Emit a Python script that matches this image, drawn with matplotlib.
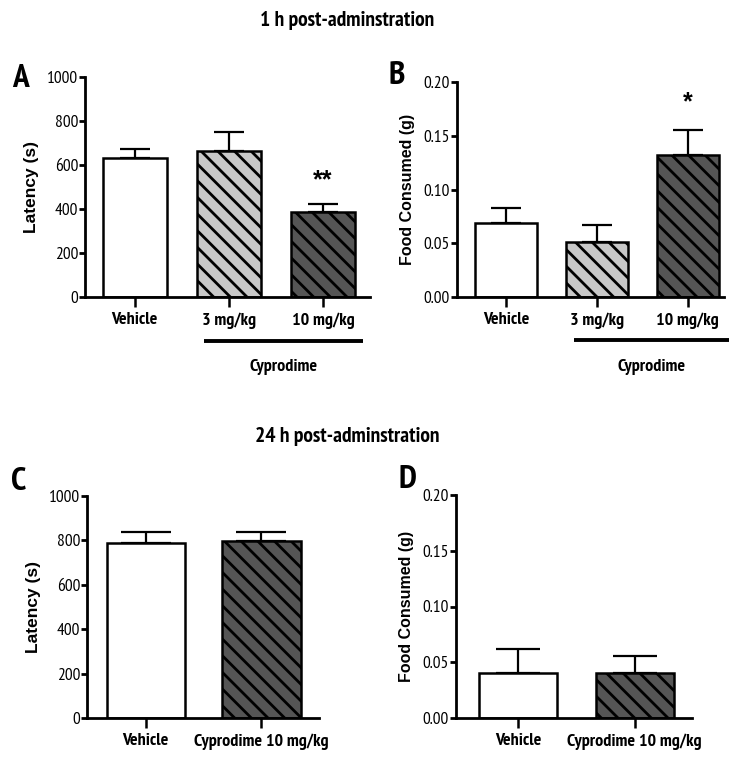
import matplotlib
matplotlib.use("Agg")
import matplotlib.pyplot as plt
from matplotlib import font_manager as fm
import matplotlib.transforms as mtransforms

_fonts = {}
for f in fm.fontManager.ttflist:
    w = f.weight
    if isinstance(w, str):
        w = {'bold': 700, 'normal': 400, 'regular': 400}.get(w, 400)
    _fonts.setdefault(f.name, set()).add(w)
_cands = ['Liberation Sans Narrow', 'Arial Narrow', 'PT Sans Narrow', 'Pragati Narrow',
          'Roboto Condensed', 'Archivo Narrow', 'Fira Sans Condensed', 'Asap Condensed',
          'Encode Sans Condensed', 'IBM Plex Sans Condensed', 'Sofia Sans Condensed',
          'Open Sans Condensed', 'Barlow Semi Condensed', 'Fira Sans Extra Condensed',
          'Saira Condensed', 'Barlow Condensed']
NARROW = next((c for c in _cands if c in _fonts), 'Liberation Sans')
NARROW_B = next((c for c in _cands if c in _fonts and max(_fonts[c]) >= 700), 'Liberation Sans')
WIDE = 'Liberation Sans'

# ---- data ----
groups_1h = ["Vehicle", "3 mg/kg", "10 mg/kg"]
latency_1h = [630, 663, 388]
latency_1h_err = [41, 85, 36]
food_1h = [0.069, 0.051, 0.132]
food_1h_err = [0.0135, 0.016, 0.023]

groups_24h = ["Vehicle", "Cyprodime 10 mg/kg"]
latency_24h = [787, 799]
latency_24h_err = [50, 38]
food_24h = [0.040, 0.040]
food_24h_err = [0.022, 0.016]

fills_1h = ["white", "#c8c8c8", "#555555"]
hatches_1h = ["", "\\\\", "\\\\"]
fills_24h = ["white", "#555555"]
hatches_24h = ["", "\\\\"]

plt.rcParams['hatch.linewidth'] = 2.0

W, H = 754, 773
fig = plt.figure(figsize=(W / 100, H / 100), dpi=100)


def ax_px(left, right, top, bottom):
    return fig.add_axes([left / W, 1 - bottom / H, (right - left) / W, (bottom - top) / H])


def style(ax, ylim, yticks, yfmt, ylabel, ylsize, xlim, labels):
    ax.set_ylim(*ylim)
    ax.set_xlim(*xlim)
    ax.set_yticks(yticks)
    ax.set_yticklabels([yfmt(v) for v in yticks], family=NARROW, fontsize=12.5)
    ax.set_xticks(range(len(labels)))
    ax.set_xticklabels(labels, family=NARROW_B, fontsize=13, fontweight='bold')
    for s in ['top', 'right']:
        ax.spines[s].set_visible(False)
    for s in ['left', 'bottom']:
        ax.spines[s].set_linewidth(2.0)
    ax.tick_params(axis='y', direction='out', length=4, width=2.0, pad=1)
    ax.tick_params(axis='x', direction='out', length=7, width=1.8, pad=4)
    ax.set_ylabel(ylabel, family=WIDE, fontsize=ylsize, fontweight='bold', labelpad=6)


def bars(ax, vals, errs, fills, hatches, width, capsize):
    x = list(range(len(vals)))
    ax.bar(x, vals, width=width, color=fills, edgecolor='black', linewidth=1.8,
           hatch=hatches, zorder=2)
    ax.errorbar(x, vals, yerr=[[0] * len(errs), errs], fmt='none', ecolor='black',
                elinewidth=1.6, capsize=capsize, capthick=1.6, zorder=1)


def cyp_line(ax, x0, x1, y_line, y_text):
    tr = mtransforms.blended_transform_factory(ax.transData, ax.transAxes)
    ax.plot([x0, x1], [y_line, y_line], transform=tr, color='black', lw=2.8,
            clip_on=False, solid_capstyle='butt')
    ax.text((x0 + x1) / 2, y_text, "Cyprodime", transform=tr, ha='center', va='center',
            family=NARROW_B, fontsize=13, fontweight='bold')


# Panel A
axA = ax_px(85, 370, 77, 297)
bars(axA, latency_1h, latency_1h_err, fills_1h, hatches_1h, 0.68, 10.5)
style(axA, (0, 1000), [0, 200, 400, 600, 800, 1000], lambda v: f"{v:d}", "Latency (s)", 12.5,
      (-0.53, 2.5), groups_1h)
axA.text(2, 532, "**", ha='center', va='center', fontsize=18, fontweight='bold', family=WIDE)
cyp_line(axA, 0.73, 2.43, -0.2, -0.32)

# Panel B
axB = ax_px(457, 724, 82, 297)
bars(axB, food_1h, food_1h_err, fills_1h, hatches_1h, 0.68, 10.5)
style(axB, (0, 0.2), [0, 0.05, 0.10, 0.15, 0.20], lambda v: f"{v:.2f}", "Food Consumed (g)", 11.5,
      (-0.54, 2.4), groups_1h)
axB.text(2, 0.181, "*", ha='center', va='center', fontsize=18, fontweight='bold', family=WIDE)
cyp_line(axB, 0.75, 2.45, -0.2, -0.325)

# Panel C
axC = ax_px(87, 319, 496, 718)
bars(axC, latency_24h, latency_24h_err, fills_24h, hatches_24h, 0.68, 18)
style(axC, (0, 1000), [0, 200, 400, 600, 800, 1000], lambda v: f"{v:d}", "Latency (s)", 12.5,
      (-0.51, 1.5), groups_24h)

# Panel D
axD = ax_px(456, 692, 495, 718)
bars(axD, food_24h, food_24h_err, fills_24h, hatches_24h, 0.67, 16)
style(axD, (0, 0.2), [0, 0.05, 0.10, 0.15, 0.20], lambda v: f"{v:.2f}", "Food Consumed (g)", 11.5,
      (-0.53, 1.49), groups_24h)

# Titles and panel letters
fig.text(347 / W, 1 - 21 / H, "1 h post-adminstration", ha='center', va='center',
         family=NARROW_B, fontsize=15.5, fontweight='bold')
fig.text(347 / W, 1 - 437 / H, "24 h post-adminstration", ha='center', va='center',
         family=NARROW_B, fontsize=15.5, fontweight='bold')
for lab, x, y in [("A", 20, 79), ("B", 397, 76), ("C", 19, 482), ("D", 407, 480)]:
    fig.text(x / W, 1 - y / H, lab, ha='center', va='center', family=NARROW_B,
             fontsize=24, fontweight='bold')

fig.savefig("out.png", dpi=100, facecolor='white')
